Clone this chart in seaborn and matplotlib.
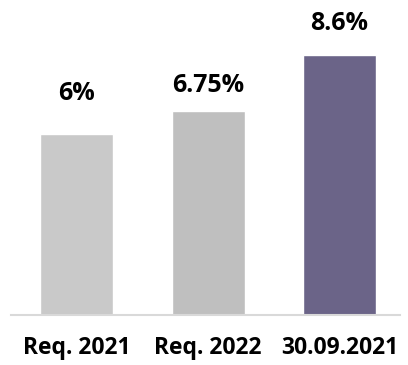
import matplotlib
matplotlib.use("Agg")
import matplotlib.pyplot as plt
import seaborn as sns
import pandas as pd

categories = ["Req. 2021", "Req. 2022", "30.09.2021"]
values = [6.0, 6.75, 8.6]
value_labels = ["6%", "6.75%", "8.6%"]
bar_colors = ["#C9C9C9", "#BFBFBF", "#6B6488"]

sns.set_theme(style="white")
plt.rcParams["font.family"] = ["Open Sans", "DejaVu Sans"]

df = pd.DataFrame({"category": categories, "value": values})

fig = plt.figure(figsize=(4.08, 3.65), dpi=100)
ax = fig.add_axes([11 / 408, 50 / 365, 389 / 408, 302 / 365])

sns.barplot(data=df, x="category", y="value", hue="category",
            palette=bar_colors, width=0.555, legend=False, ax=ax,
            saturation=1)

ax.set_xlim(-0.5, 2.46)
ax.set_ylim(0, 10)

# value labels above each bar (baseline gap in points)
label_gaps = [24.5, 13.7, 18]
for i, (v, txt) in enumerate(zip(values, value_labels)):
    ax.annotate(txt, xy=(i, v), xytext=(0, label_gaps[i]),
                textcoords="offset points", ha="center", va="baseline",
                fontsize=18, fontweight="bold", color="#000000")

ax.set_xlabel("")
ax.set_ylabel("")
ax.set_yticks([])
ax.tick_params(axis="x", length=0, pad=15)
for lab in ax.get_xticklabels():
    lab.set_fontsize(16.5)
    lab.set_fontweight("bold")
    lab.set_color("#000000")

for side in ["top", "left", "right"]:
    ax.spines[side].set_visible(False)
ax.spines["bottom"].set_color("#D9D9D9")
ax.spines["bottom"].set_linewidth(1.5)

fig.savefig("out.png", dpi=100)
